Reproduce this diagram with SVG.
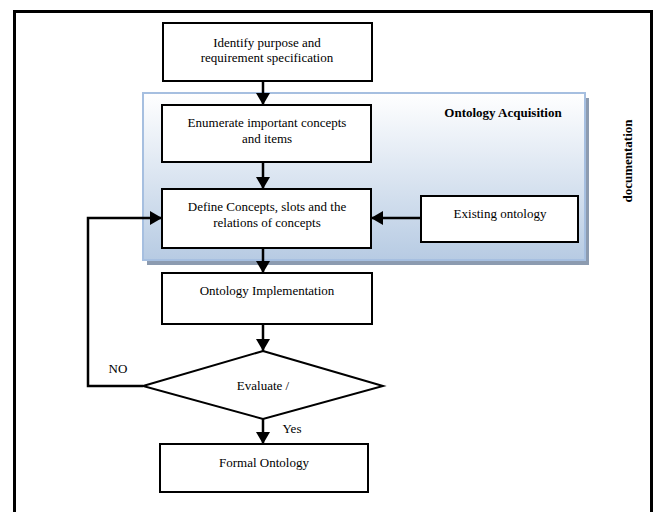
<svg xmlns="http://www.w3.org/2000/svg" width="655" height="512" viewBox="0 0 655 512">
  <defs>
    <linearGradient id="acqFill" x1="0" y1="0" x2="0" y2="1">
      <stop offset="0" stop-color="#ffffff"/>
      <stop offset="1" stop-color="#b7cbe3"/>
    </linearGradient>
    <marker id="arrow" viewBox="0 0 12 14" refX="12" refY="7" markerWidth="12" markerHeight="14" markerUnits="userSpaceOnUse" orient="auto">
      <path d="M0,0 L12,7 L0,14 Z" fill="#000"/>
    </marker>
  </defs>
  <style>
    .box { fill: #fff; stroke: #000; stroke-width: 2; }
    .lbl { font-family: "Liberation Serif", "Times New Roman", serif; font-size: 13px; fill: #000; text-anchor: middle; }
    .bold { font-weight: bold; }
    .conn { fill: none; stroke: #000; stroke-width: 2.5; }
  </style>

  <rect x="0" y="0" width="655" height="512" fill="#fff"/>
  <!-- page frame -->
  <path d="M14.5,520 V11.5 H651.5 V520" fill="none" stroke="#000" stroke-width="3"/>

  <!-- acquisition panel -->
  <g id="acquisition">
    <rect x="147" y="98" width="442" height="167" fill="#8c9bb0"/>
    <rect x="143" y="93" width="442" height="167" fill="url(#acqFill)" stroke="#a6bfe0" stroke-width="2"/>
    <text class="lbl bold" x="503" y="117">Ontology Acquisition</text>
  </g>

  <g id="connectors">
    <line class="conn" x1="263" y1="81" x2="263" y2="105" marker-end="url(#arrow)"/>
    <line class="conn" x1="263" y1="162" x2="263" y2="189" marker-end="url(#arrow)"/>
    <line class="conn" x1="421" y1="218" x2="371" y2="218" marker-end="url(#arrow)"/>
    <line class="conn" x1="263" y1="248" x2="263" y2="273" marker-end="url(#arrow)"/>
    <line class="conn" x1="263" y1="324" x2="263" y2="351" marker-end="url(#arrow)"/>
    <line class="conn" x1="263" y1="419" x2="263" y2="444" marker-end="url(#arrow)"/>
    <polyline class="conn" points="143,386 88,386 88,218 162,218" marker-end="url(#arrow)"/>
  </g>

  <g id="identify">
    <rect class="box" x="163" y="23" width="209" height="58"/>
    <text class="lbl" x="267" y="47">Identify purpose and</text>
    <text class="lbl" x="267" y="62">requirement specification</text>
  </g>

  <g id="enumerate">
    <rect class="box" x="162" y="105" width="209" height="57"/>
    <text class="lbl" x="267" y="127">Enumerate important concepts</text>
    <text class="lbl" x="267" y="143">and items</text>
  </g>

  <g id="define">
    <rect class="box" x="162" y="189" width="209" height="59"/>
    <text class="lbl" x="267" y="211">Define Concepts, slots and the</text>
    <text class="lbl" x="267" y="227">relations of concepts</text>
  </g>

  <g id="existing">
    <rect class="box" x="421" y="196" width="157" height="46"/>
    <text class="lbl" x="500" y="218">Existing ontology</text>
  </g>

  <g id="implementation">
    <rect class="box" x="162" y="273" width="210" height="51"/>
    <text class="lbl" x="267" y="295">Ontology Implementation</text>
  </g>

  <g id="evaluate">
    <polygon class="box" points="263,351 383,386 263,419 143,386"/>
    <text class="lbl" x="263" y="390">Evaluate /</text>
  </g>

  <g id="formal">
    <rect class="box" x="160" y="444" width="208" height="48"/>
    <text class="lbl" x="264" y="467">Formal Ontology</text>
  </g>

  <text class="lbl" x="118" y="373">NO</text>
  <text class="lbl" x="292" y="433">Yes</text>
  <text class="lbl bold" transform="translate(632,161) rotate(-90)">documentation</text>
</svg>
